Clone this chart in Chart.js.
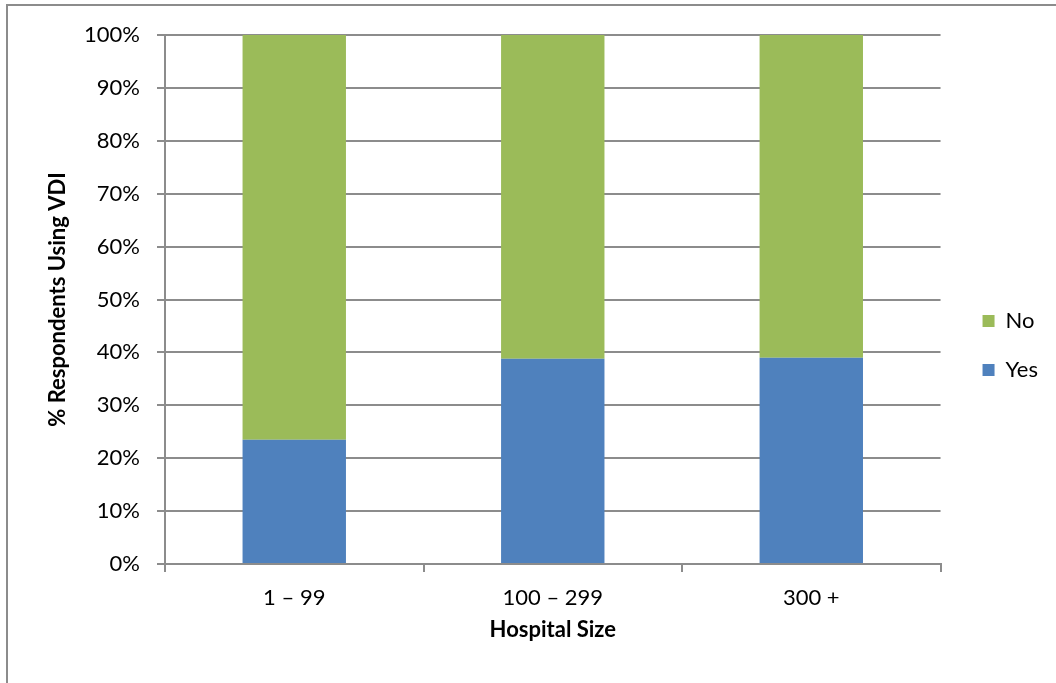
<!DOCTYPE html>
<html>
<head>
<meta charset="utf-8">
<script src="https://cdn.jsdelivr.net/npm/chart.js@4.4.1/dist/chart.umd.min.js"></script>
<style>
	html, body { margin: 0; padding: 0; background: #fff; }
	#wrap { position: relative; width: 1056px; height: 683px; overflow: hidden; }
	#frame {
		position: absolute; left: 6px; top: 4px; right: -10px; bottom: -10px;
		border: 2px solid #8c8c8c; pointer-events: none;
	}
	canvas { position: absolute; left: 0; top: 0; }
</style>
</head>
<body>
<div id="wrap">
	<canvas id="chart" width="1056" height="683"></canvas>
	<div id="frame"></div>
</div>
<script>
const categories = ['1 – 99', '100 – 299', '300 +']
const yesValues = [23.5, 38.8, 39.0]
const noValues = [76.5, 61.2, 61.0]

const gridGray = '#8c8c8c'
const fontFamily = 'Lato, "Open Sans", sans-serif'

const chartData = {
	labels: categories,
	datasets: [
		{ label: 'Yes', data: yesValues, backgroundColor: '#4f81bd' },
		{ label: 'No', data: noValues, backgroundColor: '#9bbb59' }
	]
}

const config = {
	type: 'bar',
	data: chartData,
	options: {
		responsive: false,
		animation: false,
		barPercentage: 0.4,
		categoryPercentage: 1,
		layout: { padding: { left: 0, top: 35, right: 8, bottom: 36 } },
		scales: {
			x: {
				stacked: true,
				grid: {
					offset: true,
					drawOnChartArea: false,
					color: gridGray,
					lineWidth: 2,
					tickLength: 8
				},
				border: { color: gridGray, width: 2 },
				ticks: { color: '#000', padding: 13, font: { family: fontFamily, size: 22 } },
				title: {
					display: true,
					text: 'Hospital Size',
					color: '#000',
					padding: { top: 0, bottom: 4 },
					font: { family: fontFamily, size: 22, weight: 'bold' }
				},
				afterFit: scale => { scale.height = 83 }
			},
			y: {
				stacked: true,
				min: 0,
				max: 100,
				grid: { color: gridGray, lineWidth: 2, tickLength: 8 },
				border: { color: gridGray, width: 2 },
				ticks: {
					stepSize: 10,
					color: '#000',
					padding: 17,
					font: { family: fontFamily, size: 22 },
					callback: v => v + '%'
				},
				title: {
					display: true,
					text: '% Respondents Using VDI',
					color: '#000',
					padding: { top: 45, bottom: 0 },
					font: { family: fontFamily, size: 22, weight: 'bold' }
				},
				afterFit: scale => { scale.width = 165 }
			},
			// empty spacer between the plot and the legend
			gap: {
				position: 'right',
				display: true,
				grid: { display: false },
				border: { display: false },
				ticks: { display: false },
				afterFit: scale => { scale.width = 15 }
			}
		},
		plugins: {
			tooltip: { enabled: false },
			legend: {
				position: 'right',
				reverse: true,
				// blank title only nudges the items down a little
				title: { display: true, text: '', padding: 0, font: { size: 9, lineHeight: 1 } },
				labels: {
					boxWidth: 12,
					boxHeight: 12,
					padding: 27,
					color: '#000',
					font: { family: fontFamily, size: 22 }
				}
			}
		}
	}
}

new Chart(document.getElementById('chart'), config)
</script>
</body>
</html>
